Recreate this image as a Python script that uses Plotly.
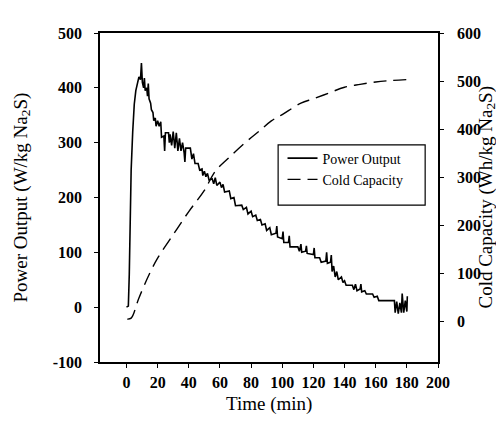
import plotly.graph_objects as go

# Power output (W/kg Na2S) vs time (min)
power_t = [0.0, 1.2, 1.8, 2.3, 3.0, 4.0, 5.0, 6.0, 7.0, 8.0, 9.0, 9.6, 10.2, 11.0, 11.5, 12.0,
           13.0, 13.5, 14.0, 14.5, 15.5, 16.0, 17.0, 17.5, 18.5, 19.0, 20.0, 21.0, 22.0, 22.5,
           24.0, 24.5, 25.0, 27.0, 27.5, 28.0, 29.0, 30.0, 31.0, 32.0, 33.0, 34.0, 35.0, 36.0,
           37.0, 37.5, 38.0, 41.0, 42.0, 43.0, 44.0, 46.0, 47.0, 48.5, 49.0, 50.0, 51.0, 52.0,
           53.0, 55.0, 56.0, 57.0, 58.0, 60.0, 61.0, 62.0, 63.0, 66.0, 67.0, 69.0, 70.0, 74.0,
           75.0, 77.0, 78.0, 80.0, 81.0, 83.0, 84.0, 86.0, 87.0, 89.0, 90.0, 92.0, 93.0, 96.0,
           96.5, 97.0, 100.0, 100.5, 101.0, 104.0, 104.5, 105.0, 110.0, 111.0, 112.0, 112.5,
           115.0, 115.5, 116.0, 120.0, 120.5, 121.0, 124.0, 125.0, 128.0, 128.5, 129.0, 131.0,
           131.5, 132.0, 133.0, 134.0, 135.0, 136.0, 138.0, 139.0, 140.0, 141.0, 145.0, 146.0,
           147.0, 148.0, 150.0, 150.5, 151.0, 153.0, 154.0, 158.0, 159.0, 161.0, 162.0, 172.0,
           172.5, 173.5, 174.5, 175.5, 176.5, 177.0, 178.0, 179.0, 180.0, 180.3]
power_v = [0, 2, 60, 150, 250, 320, 370, 395, 405, 420, 415, 445, 410, 400, 418, 395,
           400, 385, 408, 380, 372, 360, 355, 340, 345, 330, 340, 330, 338, 310,
           312, 285, 318, 318, 300, 315, 295, 320, 290, 318, 285, 308, 285, 300,
           282, 265, 290, 290, 270, 280, 262, 262, 250, 252, 240, 248, 238, 244,
           232, 234, 225, 236, 222, 228, 218, 224, 210, 212, 198, 200, 185, 186,
           178, 182, 170, 175, 165, 168, 158, 160, 150, 152, 140, 145, 132, 135,
           148, 128, 125, 138, 118, 118, 130, 110, 110, 102, 115, 100,
           102, 112, 98, 96, 108, 90, 90, 82, 84, 100, 80, 82,
           95, 65, 75, 55, 65, 50, 55, 45, 48, 40, 40, 32,
           42, 30, 33, 42, 28, 30, 24, 24, 18, 20, 12, 12,
           -10, 10, -12, 8, -10, 25, -10, 12, -8, 20]

# Cold capacity (Wh/kg Na2S) vs time (min)
cold_t = [0.5, 3, 8, 15, 20, 30, 40, 50, 57, 65, 76, 85, 93, 100, 112, 120, 130, 140, 150, 160, 170, 181]
cold_v = [4, 6, 48, 100, 131, 180, 228, 272, 312, 338, 371, 395, 417, 430, 454, 463, 475, 487, 493, 498, 501, 503]

x_ticks = [0, 20, 40, 60, 80, 100, 120, 140, 160, 180, 200]
y1_ticks = [-100, 0, 100, 200, 300, 400, 500]
y1_labels = ["-100", "0", "100", "200", "300", "400", "500"]
y2_ticks = [0, 100, 200, 300, 400, 500, 600]

serif = "Liberation Serif, Times New Roman, serif"

fig = go.Figure()
fig.add_trace(go.Scatter(x=power_t, y=power_v, mode="lines", name="Power Output",
                         line=dict(color="black", width=1.6), yaxis="y"))
fig.add_trace(go.Scatter(x=cold_t, y=cold_v, mode="lines", name="Cold Capacity",
                         line=dict(color="black", width=1.4, dash="13px,7px", shape="spline"),
                         yaxis="y2"))

tickfont = dict(family=serif, size=16, color="black", weight="bold")
titlefont = dict(family=serif, size=19, color="black")

# legend frame (drawn as a shape for wider padding, like the reference)
fig.add_shape(type="rect", xref="paper", yref="paper",
              x0=0.527, x1=0.962, y0=0.477, y1=0.66,
              line=dict(color="black", width=1.2), fillcolor="rgba(0,0,0,0)")

fig.add_annotation(text="Power Output (W/kg Na<sub>2</sub>S)", xref="paper", yref="paper",
                   x=0, y=0.5, xanchor="center", yanchor="middle", xshift=-79,
                   textangle=-90, showarrow=False, font=titlefont)
fig.add_annotation(text="Cold Capacity (Wh/kg Na<sub>2</sub>S)", xref="paper", yref="paper",
                   x=1, y=0.5, xanchor="center", yanchor="middle", xshift=48,
                   textangle=-90, showarrow=False, font=titlefont)
fig.add_annotation(text="Time (min)", xref="paper", yref="paper",
                   x=0.5, y=0, xanchor="center", yanchor="middle", yshift=-42,
                   showarrow=False, font=titlefont)

fig.update_layout(
    width=504, height=425,
    margin=dict(l=92, r=74, t=25, b=71),
    paper_bgcolor="white", plot_bgcolor="white",
    showlegend=True,
    legend=dict(x=0.54, y=0.667, xanchor="left", yanchor="top",
                borderwidth=0, bgcolor="rgba(255,255,255,0)",
                font=dict(family=serif, size=14, color="black"),
                tracegroupgap=0),
    xaxis=dict(range=[-17, 200], tickvals=x_ticks, showgrid=False, zeroline=False,
               showline=True, linecolor="black", linewidth=1.5, mirror=True,
               ticks="outside", ticklen=4, tickcolor="black", ticklabelstandoff=1,
               tickfont=tickfont),
    yaxis=dict(range=[-100, 500], tickvals=y1_ticks, ticktext=y1_labels,
               showgrid=False, zeroline=False,
               showline=True, linecolor="black", linewidth=1.5,
               ticks="outside", ticklen=4, tickcolor="black", ticklabelstandoff=9,
               tickfont=tickfont),
    yaxis2=dict(range=[-85.4, 600], tickvals=y2_ticks, overlaying="y", side="right",
                showgrid=False, zeroline=False,
                showline=True, linecolor="black", linewidth=1.5,
                ticks="outside", ticklen=4, tickcolor="black", ticklabelstandoff=10,
                tickfont=tickfont),
)

fig.write_html("out.html")
